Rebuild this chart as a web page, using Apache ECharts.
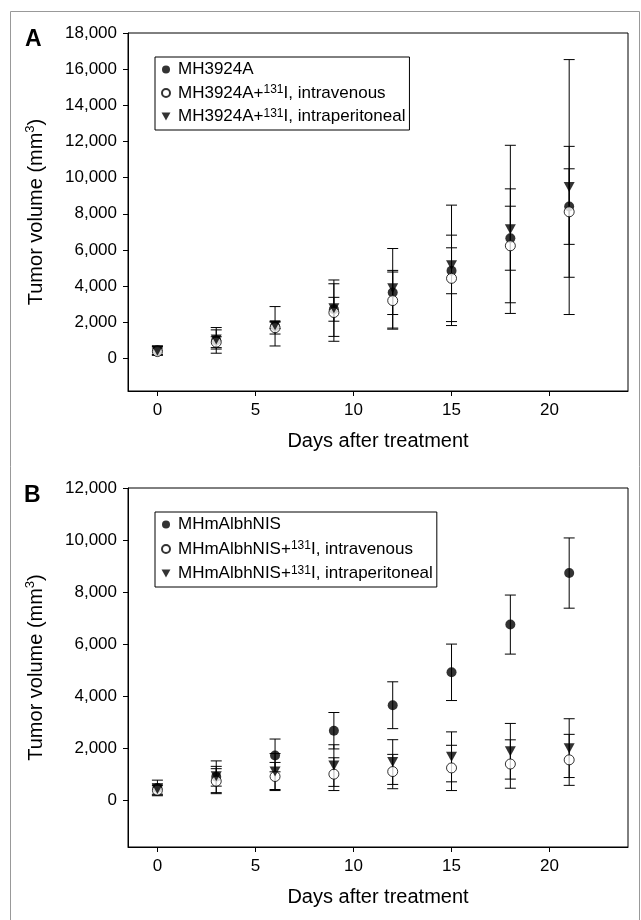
<!DOCTYPE html>
<html>
<head>
<meta charset="utf-8">
<script src="https://cdn.jsdelivr.net/npm/echarts@6/dist/echarts.min.js"></script>
<style>
  html, body { margin: 0; padding: 0; background: #fff; }
  #main { width: 641px; height: 920px; }
</style>
</head>
<body>
<div id="main"></div>
<script>
var days = [0, 3, 6, 9, 12, 15, 18, 21];

// panel A - MH3924A
var aNames = ['MH3924A', 'MH3924A+131I, intravenous', 'MH3924A+131I, intraperitoneal'];
var aControl    = [450, 1000, 1780, 2720, 3650, 4850, 6650, 8400];
var aControlErr = [250, 710, 1090, 660, 1220, 1270, 1770, 2090];
var aIv         = [380, 900, 1700, 2540, 3200, 4430, 6230, 8110];
var aIvErr      = [200, 300, 350, 1590, 1580, 2390, 3150, 3620];
var aIp         = [430, 1050, 1830, 2780, 3880, 5150, 7140, 9480];
var aIpErr      = [230, 530, 180, 1560, 2200, 3330, 4650, 7050];

// panel B - MHmAlbhNIS
var bNames = ['MHmAlbhNIS', 'MHmAlbhNIS+131I, intravenous', 'MHmAlbhNIS+131I, intraperitoneal'];
var bControl    = [470, 900, 1720, 2670, 3650, 4915, 6750, 8730];
var bControlErr = [300, 610, 630, 700, 900, 1085, 1135, 1350];
var bIv         = [380, 730, 910, 1000, 1100, 1240, 1390, 1550];
var bIvErr      = [180, 480, 540, 630, 660, 870, 930, 980];
var bIp         = [430, 920, 1100, 1330, 1465, 1665, 1880, 2000];
var bIpErr      = [200, 380, 690, 800, 860, 960, 1070, 1130];

var xTicks = [0, 5, 10, 15, 20];
var aYTicks = [0, 2000, 4000, 6000, 8000, 10000, 12000, 14000, 16000, 18000];
var bYTicks = [0, 2000, 4000, 6000, 8000, 10000, 12000];

var FONT = 'Liberation Sans, Arial, sans-serif';
var TRI_DOWN = 'path://M0,0 L10,0 L5,9 Z';

// 三种标记：实心圆 / 空心圆 / 倒三角
var markStyles = [
  { symbol: 'circle', symbolSize: 10, icon: 'circle', itemStyle: { color: '#000' } },
  { symbol: 'circle', symbolSize: 10, icon: 'circle', itemStyle: { color: '#fff', borderColor: '#000', borderWidth: 1 } },
  { symbol: TRI_DOWN, symbolSize: [11, 10], icon: TRI_DOWN, itemStyle: { color: '#000' } }
];

function pairs(vals) {
  return days.map(function (d, i) { return [d, vals[i]]; });
}

function errData(vals, errs) {
  return days.map(function (d, i) { return [d, vals[i], errs[i]]; });
}

// 误差线：竖线加上下横帽
function renderErr(params, api) {
  var x = api.value(0), y = api.value(1), e = api.value(2);
  var top = api.coord([x, y + e]);
  var bot = api.coord([x, y - e]);
  var w = 5.5;
  var st = { stroke: '#000', lineWidth: 1 };
  return {
    type: 'group',
    children: [
      { type: 'line', shape: { x1: top[0], y1: top[1], x2: bot[0], y2: bot[1] }, style: st },
      { type: 'line', shape: { x1: top[0] - w, y1: top[1], x2: top[0] + w, y2: top[1] }, style: st },
      { type: 'line', shape: { x1: bot[0] - w, y1: bot[1], x2: bot[0] + w, y2: bot[1] }, style: st }
    ]
  };
}

function panelSeries(idx, names, vals, errs) {
  var out = [];
  vals.forEach(function (v, k) {
    out.push({
      type: 'custom', xAxisIndex: idx, yAxisIndex: idx,
      renderItem: renderErr, data: errData(v, errs[k]), silent: true, z: 2
    });
  });
  vals.forEach(function (v, k) {
    var m = markStyles[k];
    out.push({
      type: 'scatter', name: names[k], xAxisIndex: idx, yAxisIndex: idx,
      symbol: m.symbol, symbolSize: m.symbolSize,
      itemStyle: m.itemStyle, data: pairs(v), z: 3 + k
    });
  });
  return out;
}

function legendText(name) {
  var m = name.match(/^(.*?\+)131(.*)$/);
  if (m) return '{t|' + m[1] + '}{s|131}{t|' + m[2] + '}';
  return '{t|' + name + '}';
}

function xAxisCfg(idx) {
  return {
    type: 'value', gridIndex: idx, min: -1.5, max: 24,
    name: 'Days after treatment', nameLocation: 'middle', nameGap: 40,
    nameTextStyle: { fontSize: 20, fontFamily: FONT, color: '#000' },
    axisLine: { show: true, onZero: false, lineStyle: { color: '#000', width: 1 } },
    axisTick: { show: true, inside: false, length: 5, customValues: xTicks, lineStyle: { color: '#000' } },
    axisLabel: { customValues: xTicks, margin: 11, fontSize: 17, fontFamily: FONT, color: '#000' },
    splitLine: { show: false }
  };
}

function yAxisCfg(idx, max, ticks) {
  return {
    type: 'value', gridIndex: idx, min: -1800, max: max,
    name: 'Tumor volume (mm{sup|3})', nameLocation: 'middle', nameGap: 80, nameRotate: 90,
    nameTextStyle: {
      fontSize: 20, fontFamily: FONT, color: '#000', lineHeight: 24,
      rich: { sup: { fontSize: 13, fontFamily: FONT, color: '#000', verticalAlign: 'top', lineHeight: 13 } }
    },
    axisLine: { show: true, onZero: false, lineStyle: { color: '#000', width: 1 } },
    axisTick: { show: true, inside: false, length: 5, customValues: ticks, lineStyle: { color: '#000' } },
    axisLabel: {
      customValues: ticks, margin: 11, fontSize: 17, fontFamily: FONT, color: '#000',
      formatter: function (v) { return v.toLocaleString('en-US'); }
    },
    splitLine: { show: false }
  };
}

function legendCfg(names, top, gap) {
  return {
    data: names.map(function (n, k) { return { name: n, icon: markStyles[k].icon }; }),
    orient: 'vertical', left: 155, top: top,
    itemWidth: 14, itemHeight: 8, itemGap: gap, align: 'left',
    borderColor: '#000', borderWidth: 1, padding: [4, 4, 5, 6],
    formatter: legendText,
    textStyle: {
      fontFamily: FONT, color: '#000',
      rich: {
        t: { fontSize: 17, fontFamily: FONT, color: '#000', lineHeight: 18 },
        s: { fontSize: 12, fontFamily: FONT, color: '#000', lineHeight: 11, verticalAlign: 'top' }
      }
    }
  };
}

var chart = echarts.init(document.getElementById('main'), null, { renderer: 'canvas' });

var option = {
  backgroundColor: '#fff',
  animation: false,
  grid: [
    { left: 128, right: 13, top: 33, height: 358, show: true, borderColor: '#000', borderWidth: 1 },
    { left: 128, right: 13, top: 488, height: 359, show: true, borderColor: '#000', borderWidth: 1 }
  ],
  xAxis: [xAxisCfg(0), xAxisCfg(1)],
  yAxis: [yAxisCfg(0, 18000, aYTicks), yAxisCfg(1, 12000, bYTicks)],
  legend: [legendCfg(aNames, 57, 6), legendCfg(bNames, 512, 7)],
  graphic: [
    { type: 'rect', left: 8, top: 9, shape: { width: 629, height: 940 },
      style: { fill: 'none', stroke: '#999', lineWidth: 1 }, silent: true },
    { type: 'text', left: 25, top: 28, style: { text: 'A', font: 'bold 23px ' + FONT, fill: '#000' } },
    { type: 'text', left: 24, top: 484, style: { text: 'B', font: 'bold 23px ' + FONT, fill: '#000' } }
  ],
  series: panelSeries(0, aNames, [aControl, aIv, aIp], [aControlErr, aIvErr, aIpErr])
    .concat(panelSeries(1, bNames, [bControl, bIv, bIp], [bControlErr, bIvErr, bIpErr]))
};

chart.setOption(option);
</script>
</body>
</html>
